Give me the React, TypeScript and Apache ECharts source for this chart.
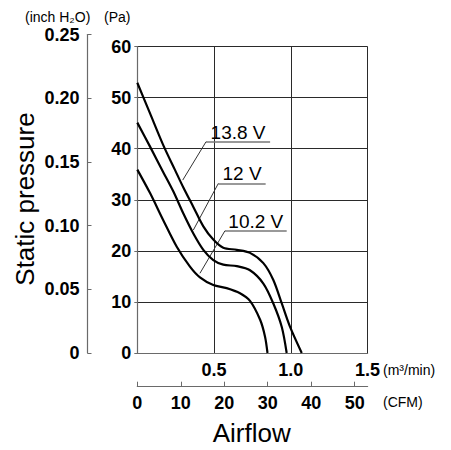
import React, { useEffect, useRef } from "react";
import * as echarts from "echarts";

// Airflow (m³/min) vs static pressure (Pa)
const curve138V: [number, number][] = [
  [0, 52.9], [0.083, 46.9], [0.169, 40.7], [0.246, 35.8], [0.3, 32.4], [0.365, 28.6],
  [0.43, 24.8], [0.495, 22.2], [0.56, 20.6], [0.648, 20.2], [0.734, 19.6], [0.821, 17.6],
  [0.886, 14.3], [0.941, 9.7], [0.995, 5.1], [1.071, 0],
];
const curve12V: [number, number][] = [
  [0, 45.1], [0.083, 40.4], [0.169, 35.4], [0.235, 31.6], [0.3, 27.3], [0.365, 23.4],
  [0.43, 20.2], [0.495, 18.2], [0.56, 17.3], [0.648, 17.0], [0.734, 16.2], [0.821, 13.6],
  [0.886, 9.7], [0.941, 5.1], [0.973, 0],
];
const curve102V: [number, number][] = [
  [0, 35.9], [0.083, 31.3], [0.169, 26.0], [0.257, 20.8], [0.343, 16.9], [0.408, 14.8],
  [0.495, 13.3], [0.582, 12.7], [0.669, 11.7], [0.734, 10.2], [0.8, 6.5], [0.832, 3.2],
  [0.848, 0],
];
const seriesNames = ["13.8 V", "12 V", "10.2 V"];

// axis ranges
const flowMaxM3 = 1.5;
const cfmPerM3 = 35.3147;
const paMax = 60;
const inchMax = 0.25;

// annotation anchors in data coords: underline start x, end x, y; arrow tip x, y
const annoUnderline: [number, number, number][] = [
  [0.4476, 0.865, 41.35],
  [0.528, 0.836, 33.2],
  [0.571, 0.973, 23.93],
];
const annoTip: [number, number][] = [
  [0.296, 33.85],
  [0.365, 24.07],
  [0.408, 15.6],
];

const FONT = "'Liberation Sans', Arial, Helvetica, sans-serif";
const AX = "#6a6a6a";
const GRID = "#2a2a2a";

export default function App() {
  const ref = useRef<HTMLDivElement>(null);
  useEffect(() => {
    if (!ref.current) return;
    const chart = echarts.init(ref.current, undefined, { renderer: "svg" });
    const curves = [curve138V, curve12V, curve102V];
    const tickLabel = { fontFamily: FONT, fontWeight: "bold" as const, fontSize: 18, color: "#000" };

    const series: any[] = curves.map((c, i) => ({
      type: "line",
      name: seriesNames[i],
      xAxisIndex: 0,
      yAxisIndex: 0,
      data: c,
      smooth: 0.3,
      showSymbol: false,
      symbol: "none",
      lineStyle: { color: "#000", width: 2.2 },
      silent: true,
      z: 5,
      markLine: {
        silent: true,
        animation: false,
        symbol: ["none", "arrow"],
        symbolSize: [0, 9],
        data: [
          [
            {
              coord: [annoUnderline[i][0], annoUnderline[i][2]],
              symbol: "none",
              lineStyle: { color: "#777", width: 1.6, type: "solid" },
              label: {
                show: true,
                position: "insideMiddleTop",
                formatter: seriesNames[i],
                fontFamily: FONT,
                fontSize: 19,
                color: "#000",
                distance: 0,
              },
            },
            { coord: [annoUnderline[i][1], annoUnderline[i][2]], symbol: "none" },
          ],
          [
            {
              coord: [annoUnderline[i][0], annoUnderline[i][2]],
              lineStyle: { color: "#333", width: 1, type: "solid" },
              label: { show: false },
            },
            { coord: [annoTip[i][0], annoTip[i][1]] },
          ],
        ],
      },
    }));
    series.push({ type: "line", xAxisIndex: 1, yAxisIndex: 1, data: [], silent: true });
    series.push({ type: "line", xAxisIndex: 2, yAxisIndex: 2, data: [], silent: true });

    chart.setOption({
      animation: false,
      grid: [
        { left: 137.3, top: 46.5, width: 230.3, height: 306.5, containLabel: false },
        { left: 87.5, top: 34.5, width: 10, height: 318.5, containLabel: false },
        { left: 137.3, top: 385.7, width: 230.3, height: 1, containLabel: false },
      ],
      xAxis: [
        {
          gridIndex: 0,
          type: "value",
          min: 0,
          max: flowMaxM3,
          interval: 0.5,
          axisLine: { show: true, lineStyle: { color: AX, width: 1.2 } },
          axisTick: { show: false },
          splitLine: { show: true, lineStyle: { color: GRID, width: 1 } },
          axisLabel: {
            ...tickLabel,
            margin: 8,
            formatter: (v: number) => (v === 0 ? "" : v.toFixed(1)),
          },
        },
        {
          gridIndex: 1,
          type: "value",
          min: 0,
          max: 1,
          show: false,
        },
        {
          gridIndex: 2,
          type: "value",
          min: 0,
          max: flowMaxM3 * cfmPerM3,
          interval: 10,
          position: "bottom",
          axisLine: { show: true, lineStyle: { color: AX, width: 1.2 } },
          axisTick: { show: true, inside: true, length: 5, lineStyle: { color: AX } },
          splitLine: { show: false },
          axisLabel: { ...tickLabel, margin: 7, showMaxLabel: false },
        },
      ],
      yAxis: [
        {
          gridIndex: 0,
          type: "value",
          min: 0,
          max: paMax,
          interval: 10,
          axisLine: { show: true, lineStyle: { color: AX, width: 1.2 } },
          axisTick: { show: true, inside: false, length: 3, lineStyle: { color: AX } },
          splitLine: { show: true, lineStyle: { color: GRID, width: 1 } },
          axisLabel: { ...tickLabel, margin: 6 },
        },
        {
          gridIndex: 1,
          type: "value",
          min: 0,
          max: inchMax,
          interval: 0.05,
          axisLine: { show: true, lineStyle: { color: AX, width: 1.2 } },
          axisTick: { show: true, inside: true, length: 4, lineStyle: { color: AX } },
          splitLine: { show: false },
          axisLabel: {
            ...tickLabel,
            margin: 8,
            formatter: (v: number) => (v === 0 ? "0" : v.toFixed(2)),
          },
        },
        {
          gridIndex: 2,
          type: "value",
          min: 0,
          max: 1,
          show: false,
        },
      ],
      graphic: [
        {
          type: "text",
          x: 25,
          y: 17,
          style: {
            text: "(inch H₂O)",
            fontFamily: FONT,
            fontSize: 14,
            fill: "#000",
            textAlign: "left",
            textVerticalAlign: "middle",
          },
        },
        {
          type: "text",
          x: 104,
          y: 17,
          style: {
            text: "(Pa)",
            fontFamily: FONT,
            fontSize: 14,
            fill: "#000",
            textAlign: "left",
            textVerticalAlign: "middle",
          },
        },
        {
          type: "text",
          x: 383,
          y: 370,
          style: {
            text: "(m³/min)",
            fontFamily: FONT,
            fontSize: 14,
            fill: "#000",
            textAlign: "left",
            textVerticalAlign: "middle",
          },
        },
        {
          type: "text",
          x: 383,
          y: 402,
          style: {
            text: "(CFM)",
            fontFamily: FONT,
            fontSize: 14,
            fill: "#000",
            textAlign: "left",
            textVerticalAlign: "middle",
          },
        },
        {
          type: "text",
          x: 251.7,
          y: 433,
          style: {
            text: "Airflow",
            fontFamily: FONT,
            fontSize: 26,
            fill: "#000",
            textAlign: "center",
            textVerticalAlign: "middle",
          },
        },
        {
          type: "text",
          x: 25,
          y: 199,
          rotation: Math.PI / 2,
          style: {
            text: "Static pressure",
            fontFamily: FONT,
            fontSize: 26,
            fill: "#000",
            textAlign: "center",
            textVerticalAlign: "middle",
          },
        },
      ],
      series,
    });
    return () => chart.dispose();
  }, []);
  return (
    <div
      ref={ref}
      style={{ position: "fixed", left: 0, top: 0, width: 451, height: 450, background: "#fff" }}
    />
  );
}
